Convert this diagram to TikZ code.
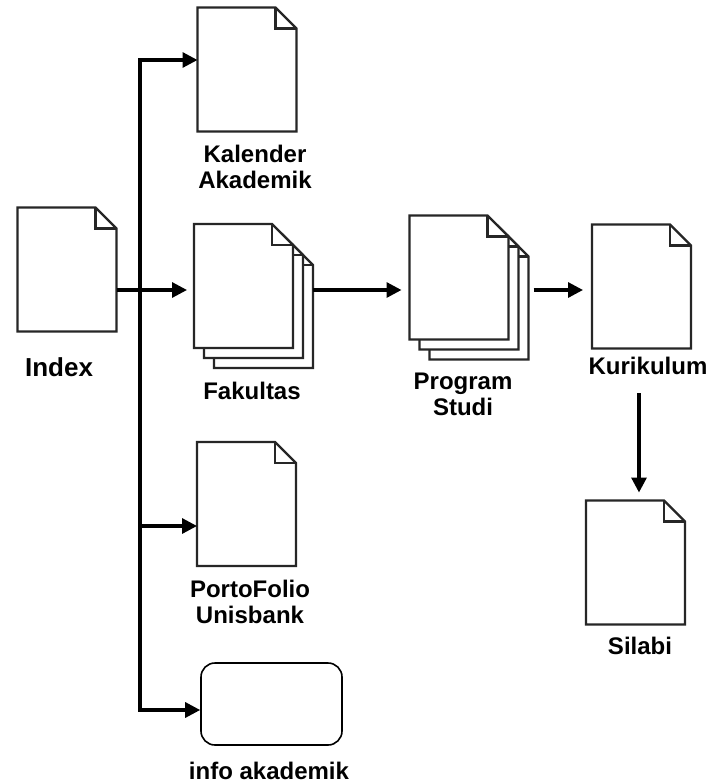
\documentclass[tikz,border=0pt]{standalone}
\usepackage{fontspec}
\setmainfont{Liberation Sans}
\usetikzlibrary{arrows.meta,calc}
\tikzset{
 docline/.style={draw=black!85,line width=2.2pt,line join=miter},
 docbox/.style={rectangle,minimum width=99pt,minimum height=124pt,inner sep=0pt,outer sep=0pt},
 arr/.style={line width=3.2pt,-{Triangle[length=15pt,width=15pt]}},
 lbl/.style={font=\fontsize{24}{26}\selectfont\bfseries,align=center,inner sep=0pt,anchor=north},
 biglbl/.style={lbl,font=\fontsize{26}{28}\selectfont\bfseries},
 infobox/.style={draw,line width=1.6pt,rounded corners=14pt,minimum width=141pt,minimum height=82pt,inner sep=0pt}
}
\newcommand\docfold{21pt}
\newcommand\drawdoc[1]{%
 \draw[docline,fill=white] (#1.south west) -- (#1.north west) -- ([xshift=-\docfold]#1.north east) -- ([yshift=-\docfold]#1.north east) -- (#1.south east) -- cycle;
 \draw[docline] ([xshift=-\docfold]#1.north east) -- ([xshift=-\docfold,yshift=-\docfold]#1.north east) -- ([yshift=-\docfold]#1.north east);}
\begin{document}
\begin{tikzpicture}[x=1pt,y=-1pt]
\useasboundingbox[fill=white] (0,0) rectangle (710,784);
% document nodes
\node[docbox] (idx) at (67,269.5) {};
\node[docbox] (kal) at (247,69.5) {};
\node[docbox] (fak3) at (263.5,306) {};
\node[docbox] (fak2) at (253.5,296) {};
\node[docbox] (fak1) at (243.5,286) {};
\node[docbox] (prog3) at (479,297.5) {};
\node[docbox] (prog2) at (469,287.5) {};
\node[docbox] (prog1) at (459,277.5) {};
\node[docbox] (kur) at (641.5,286.5) {};
\node[docbox] (porto) at (246.5,504) {};
\node[docbox] (sil) at (635.5,562.5) {};
\node[infobox] (info) at (271.5,704) {};
\drawdoc{idx}
\drawdoc{kal}
\drawdoc{fak3}\drawdoc{fak2}\drawdoc{fak1}
\drawdoc{prog3}\drawdoc{prog2}\drawdoc{prog1}
\drawdoc{kur}
\drawdoc{porto}
\drawdoc{sil}
% labels
\node[biglbl] (idxl) at (59,357) {Index};
\node[lbl] (kall) at (255,145) {Kalender\\Akademik};
\node[lbl] (fakl) at (252,382) {Fakultas};
\node[lbl] (progl) at (463,373) {Program\\Studi};
\node[lbl] (kurl) at (648,357) {Kurikulum};
\node[lbl] (portol) at (250,580) {PortoFolio\\Unisbank};
\node[lbl] (sill) at (640,637) {Silabi};
\node[lbl] (infol) at (269,762) {info akademik};
% connectors
\coordinate (tTop) at (140,60);
\coordinate (tBot) at (140,710);
\coordinate (row) at (0,290);
\coordinate (prow) at (0,526);
\coordinate (kurEnd) at (639,393);
\draw[line width=3.2pt,{Triangle[length=15pt,width=15pt]}-{Triangle[length=15pt,width=15pt]}]
  (kal.west |- tTop) -- (tTop) -- (tBot) -- (info.west |- tBot);
\draw[arr] (tTop |- prow) -- (porto.west |- prow);
\draw[arr] (idx.east |- row) -- ($(fak1.west |- row)+(-7,0)$);
\draw[arr] (fak3.east |- row) -- ($(prog1.west |- row)+(-8,0)$);
\draw[arr] ($(prog3.east |- row)+(5,0)$) -- ($(kur.west |- row)+(-9,0)$);
\draw[arr] (kurEnd) -- ($(kurEnd |- sil.north)+(0,-8)$);
\end{tikzpicture}
\end{document}
